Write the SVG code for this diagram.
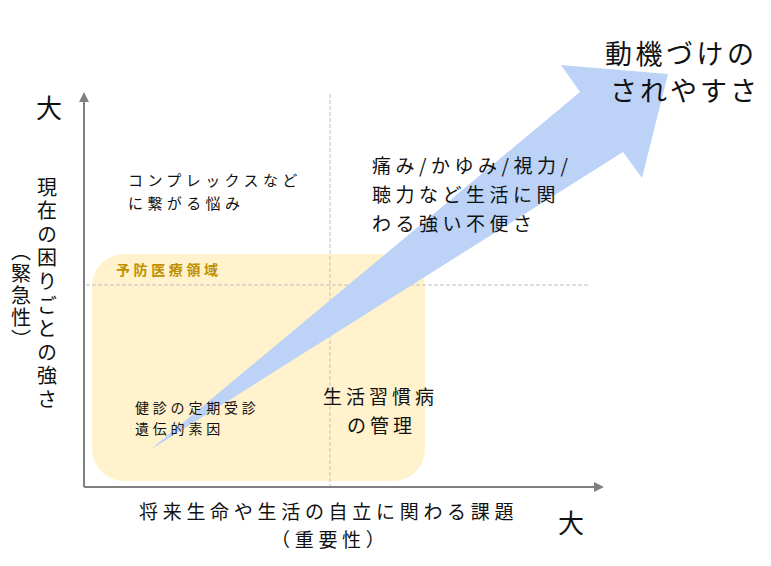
<svg xmlns="http://www.w3.org/2000/svg" width="771" height="566" viewBox="0 0 771 566">
<style>
.t{font-family:"Noto Sans CJK JP","Noto Sans CJK SC",sans-serif;fill:#111;}
.dash{stroke:#c0c0c0;stroke-width:1;stroke-dasharray:4 2;fill:none;}
.axis{stroke:#808080;stroke-width:2;fill:none;}
</style>
<defs>
<marker id="ah" viewBox="0 0 10 10" refX="2" refY="5" markerWidth="5" markerHeight="5" orient="auto" markerUnits="strokeWidth">
<path d="M0,0 L10,5 L0,10 z" fill="#808080"/>
</marker>
</defs>
<rect width="771" height="566" fill="#fff"/>
<g id="zone">
<rect x="92" y="254" width="333" height="227" rx="32" ry="32" fill="#fff2cc"/>
<text class="t" x="116" y="275" font-size="14" font-weight="bold" letter-spacing="3.6" style="fill:#bf9000">予防医療領域</text>
</g>
<g id="connectors">
<line class="dash" x1="330" y1="94" x2="330" y2="489"/>
<line class="dash" x1="86" y1="285" x2="589" y2="285"/>
<line class="axis" x1="84" y1="487" x2="84" y2="100" marker-end="url(#ah)"/>
<line class="axis" x1="84" y1="487" x2="596" y2="487" marker-end="url(#ah)"/>
<path id="bigarrow" d="M150,450 L580,92 L561,65 L668,74 L642,178 L623,152 Z" fill="#bcd3f7"/>
</g>
<g id="axis-y-labels">
<text class="t" x="49" y="118" font-size="26" text-anchor="middle">大</text>
<text class="t" x="47" y="177" font-size="20" letter-spacing="3.6" style="writing-mode:vertical-rl">現在の困りごとの強さ</text>
<text class="t" x="21" y="241" font-size="20" letter-spacing="2" style="writing-mode:vertical-rl">（緊急性）</text>
</g>
<g id="axis-x-labels">
<text class="t" font-size="19" letter-spacing="4.7"><tspan x="139" y="519">将来生命や生活の自立に関わる課題</tspan><tspan x="271" y="547">（重要性）</tspan></text>
<text class="t" x="571" y="533" font-size="26" text-anchor="middle">大</text>
</g>
<g id="node-kenshin">
<text class="t" font-size="14" letter-spacing="3.8"><tspan x="135" y="413">健診の定期受診</tspan><tspan x="135" y="434">遺伝的素因</tspan></text>
</g>
<g id="node-seikatsu">
<text class="t" font-size="19" letter-spacing="4"><tspan x="323" y="404">生活習慣病</tspan><tspan x="347" y="433">の管理</tspan></text>
</g>
<g id="node-complex">
<text class="t" font-size="15" letter-spacing="4.4"><tspan x="128" y="186">コンプレックスなど</tspan><tspan x="128" y="209">に繋がる悩み</tspan></text>
</g>
<g id="node-itami">
<text class="t" font-size="19" letter-spacing="4.5"><tspan x="372" y="173">痛み/かゆみ/視力/</tspan><tspan x="372" y="202">聴力など生活に関</tspan><tspan x="372" y="231">わる強い不便さ</tspan></text>
</g>
<g id="node-motivation">
<text class="t" font-size="27"><tspan x="605" y="64" letter-spacing="3.5">動機づけの</tspan><tspan x="610" y="101" letter-spacing="3">されやすさ</tspan></text>
</g>
</svg>
